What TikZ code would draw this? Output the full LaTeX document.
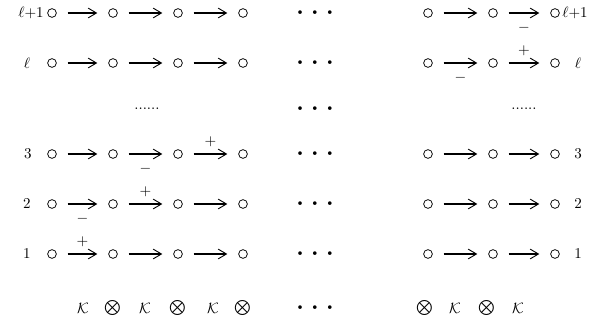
\documentclass[tikz,border=0pt]{standalone}
\usetikzlibrary{arrows.meta}
\tikzset{
  circ/.style={circle, draw, line width=0.5pt, minimum size=5.8pt, inner sep=0pt},
  arr/.style={line width=0.9pt, shorten <=7.3pt, shorten >=7.3pt,
    -{Straight Barb[length=5.5pt, width=6.5pt, line width=0.6pt]}},
  plus/.style={midway, yshift=8.5pt, inner sep=0pt},
  minus/.style={midway, yshift=-9.6pt, inner sep=0pt},
  lab/.style={inner sep=0pt},
  hdots/.style={inner sep=0pt},
}
\newcommand{\mydots}{$\scriptscriptstyle\bullet\hspace{6.2pt}\bullet\hspace{6.2pt}\bullet$}
\begin{document}
\begin{tikzpicture}[x=0.6667pt,y=-0.6667pt]
\useasboundingbox (0,0) rectangle (595,323);
% circle grid
\foreach \r/\y in {a/13, b/63, c/154, d/204, e/254} {
  \foreach \i/\x in {1/52,2/113,3/178,4/243,5/428,6/493,7/555}
    \node[circ] (\r\i) at (\x,\y) {};
  \node[hdots] (\r m) at (315,\y) {\mydots};
}
% row l+1
\draw[arr] (a1) -- (a2);
\draw[arr] (a2) -- (a3);
\draw[arr] (a3) -- (a4);
\draw[arr] (a5) -- (a6);
\draw[arr] (a6) -- node[minus] {$-$} (a7);
% row l
\draw[arr] (b1) -- (b2);
\draw[arr] (b2) -- (b3);
\draw[arr] (b3) -- (b4);
\draw[arr] (b5) -- node[minus] {$-$} (b6);
\draw[arr] (b6) -- node[plus] {$+$} (b7);
% row 3
\draw[arr] (c1) -- (c2);
\draw[arr] (c2) -- node[minus] {$-$} (c3);
\draw[arr] (c3) -- node[plus] {$+$} (c4);
\draw[arr] (c5) -- (c6);
\draw[arr] (c6) -- (c7);
% row 2
\draw[arr] (d1) -- node[minus] {$-$} (d2);
\draw[arr] (d2) -- node[plus] {$+$} (d3);
\draw[arr] (d3) -- (d4);
\draw[arr] (d5) -- (d6);
\draw[arr] (d6) -- (d7);
% row 1
\draw[arr] (e1) -- node[plus] {$+$} (e2);
\draw[arr] (e2) -- (e3);
\draw[arr] (e3) -- (e4);
\draw[arr] (e5) -- (e6);
\draw[arr] (e6) -- (e7);
% row labels
\node[lab, anchor=east] (la) at (44,13) {$\ell{+}1$};
\node[lab] (lb) at (27,63) {$\ell$};
\node[lab] (lc) at (28,154) {$3$};
\node[lab] (ld) at (27,204) {$2$};
\node[lab] (le) at (27,254) {$1$};
\node[lab, anchor=west] (ra) at (562,13) {$\ell{+}1$};
\node[lab] (rb) at (578,63) {$\ell$};
\node[lab] (rc) at (578,154) {$3$};
\node[lab] (rd) at (578,204) {$2$};
\node[lab] (re) at (578,254) {$1$};
% dots row
\node[hdots] (dl) at (147,109) {......};
\node[hdots] (dm) at (315,109) {\mydots};
\node[hdots] (dr) at (524,109) {......};
% bottom row
\node[lab] (k1) at (83,308) {$\mathcal{K}$};
\node[lab] (o1) at (113,308) {$\bigotimes$};
\node[lab] (k2) at (145,308) {$\mathcal{K}$};
\node[lab] (o2) at (178,308) {$\bigotimes$};
\node[lab] (k3) at (213,308) {$\mathcal{K}$};
\node[lab] (o3) at (243,308) {$\bigotimes$};
\node[hdots] (bm) at (315,308) {\mydots};
\node[lab] (o4) at (425,308) {$\bigotimes$};
\node[lab] (k4) at (455,308) {$\mathcal{K}$};
\node[lab] (o5) at (487,308) {$\bigotimes$};
\node[lab] (k5) at (518,308) {$\mathcal{K}$};
\end{tikzpicture}
\end{document}
